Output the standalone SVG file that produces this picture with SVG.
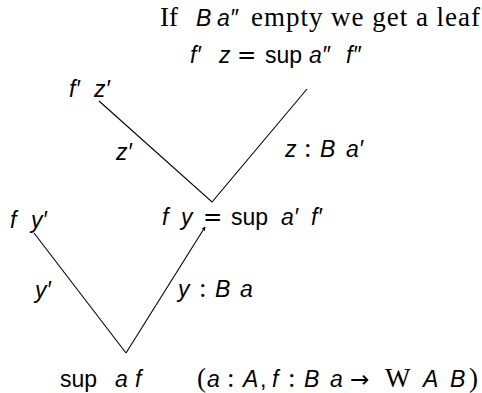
<svg xmlns="http://www.w3.org/2000/svg" width="482" height="393" viewBox="0 0 482 393">
<defs>
<marker id="tip" viewBox="0 0 6 6" refX="5" refY="3" markerWidth="4" markerHeight="4" markerUnits="userSpaceOnUse" orient="auto">
<path d="M0,0 L6,3 L0,6 z" fill="#000"/>
</marker>
</defs>
<style>
text{fill:#000}
.s{font-family:"Liberation Sans","DejaVu Sans",sans-serif;font-size:23px}
.i{font-style:italic}
.r{font-family:"Liberation Serif","DejaVu Serif",serif;font-size:27px;font-style:normal}
.q{font-family:"DejaVu Sans","Liberation Sans",sans-serif;font-size:23px;font-style:normal}
.e{fill:none;stroke:#000;stroke-width:1.1}
</style>
<rect width="482" height="393" fill="#fff"/>
<g id="connectors">
<polyline class="e" points="99,101 212,202 307,89"/>
<polyline class="e" points="34,233 126,353"/>
<line class="e" x1="126" y1="353" x2="205" y2="227" marker-end="url(#tip)"/>
</g>
<g id="note">
<text x="160" y="26"><tspan class="r">If</tspan><tspan class="s i" x="196">B</tspan><tspan class="s i" x="217">a″</tspan><tspan class="r" x="251" textLength="229">empty we get a leaf</tspan></text>
</g>
<g id="node-fz">
<text y="63" class="s"><tspan class="i" x="190">f′</tspan><tspan class="i" x="219">z</tspan><tspan class="q" x="237">=</tspan><tspan x="265">sup</tspan><tspan class="i" x="309">a″</tspan><tspan class="i" x="346">f″</tspan></text>
</g>
<g id="node-fpzp">
<text y="97" class="s i"><tspan x="69">f′</tspan><tspan x="94">z′</tspan></text>
</g>
<g id="label-zp"><text class="s i" x="116" y="160">z′</text></g>
<g id="label-z">
<text y="157" class="s"><tspan class="i" x="285">z</tspan><tspan class="r" x="304">:</tspan><tspan class="i" x="320">B</tspan><tspan class="i" x="346">a′</tspan></text>
</g>
<g id="node-fyp">
<text y="228" class="s i"><tspan x="10">f</tspan><tspan x="31">y′</tspan></text>
</g>
<g id="node-fy">
<text y="225" class="s"><tspan class="i" x="162">f</tspan><tspan class="i" x="181">y</tspan><tspan class="q" x="203">=</tspan><tspan x="231">sup</tspan><tspan class="i" x="281">a′</tspan><tspan class="i" x="311">f′</tspan></text>
</g>
<g id="label-yp"><text class="s i" x="35" y="298">y′</text></g>
<g id="label-y">
<text y="297" class="s"><tspan class="i" x="178">y</tspan><tspan class="r" x="199">:</tspan><tspan class="i" x="215">B</tspan><tspan class="i" x="240">a</tspan></text>
</g>
<g id="node-sup">
<text y="387" class="s"><tspan x="60">sup</tspan><tspan class="i" x="115">a</tspan><tspan class="i" x="135">f</tspan></text>
</g>
<g id="typing">
<text y="387" class="s"><tspan class="r" x="197">(</tspan><tspan class="i" x="207">a</tspan><tspan class="r" x="227">:</tspan><tspan class="i" x="243">A</tspan><tspan x="260">,</tspan><tspan class="i" x="272">f</tspan><tspan class="r" x="288">:</tspan><tspan class="i" x="304">B</tspan><tspan class="i" x="330">a</tspan><tspan class="q" x="350" font-size="27">→</tspan><tspan class="r" x="385">W</tspan><tspan class="i" x="423">A</tspan><tspan class="i" x="450">B</tspan><tspan class="r" x="469">)</tspan></text>
</g>
</svg>
